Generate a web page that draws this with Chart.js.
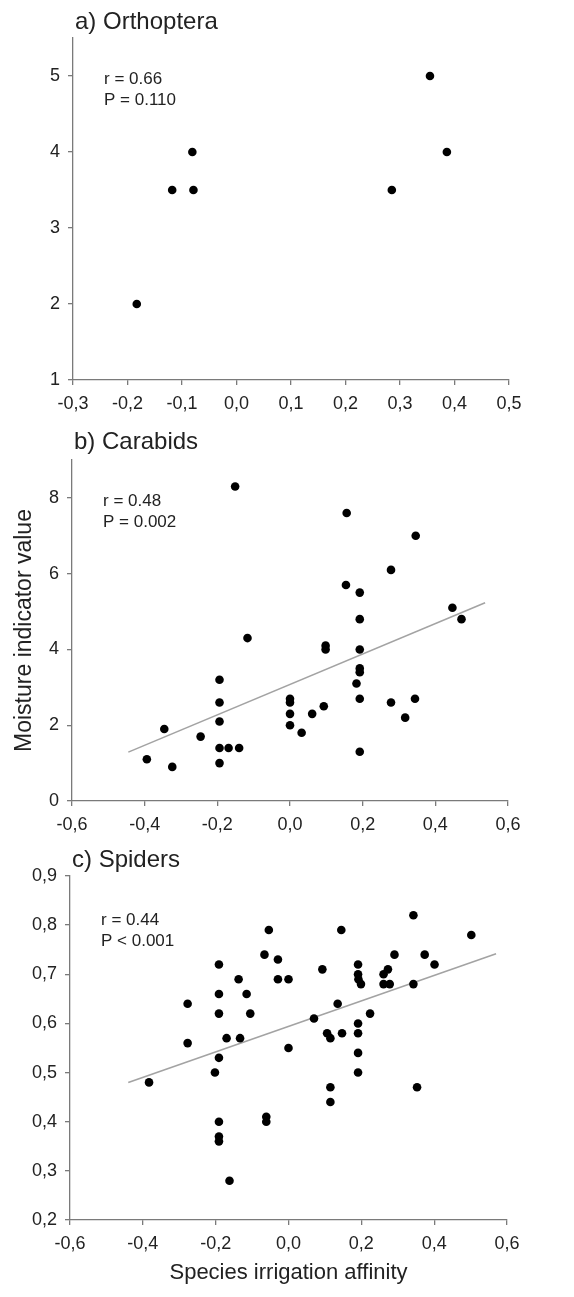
<!DOCTYPE html>
<html>
<head>
<meta charset="utf-8">
<script src="https://cdn.jsdelivr.net/npm/chart.js@4"></script>
<style>
  body { margin: 0; background: #fff; }
  #wrap { position: relative; width: 574px; height: 1297px; }
  canvas { position: absolute; left: 0; }
</style>
</head>
<body>
<div id="wrap">
  <canvas id="chartA" width="574" height="420" style="top:0"></canvas>
  <canvas id="chartB" width="574" height="430" style="top:420px"></canvas>
  <canvas id="chartC" width="574" height="447" style="top:850px"></canvas>
</div>
<script>
// a) Orthoptera
const orthopteraX = [-0.183, -0.118, -0.081, -0.079, 0.285, 0.355, 0.386];
const orthopteraY = [2, 3.5, 4, 3.5, 3.5, 5, 4];

// b) Carabids
const carabidX = [-0.151, 0.156, 0.346, 0.278, 0.154, 0.192, 0.447, 0.472, 0.192, -0.117,
  0.098, 0.098, 0.192, 0.192, 0.192, 0.183, -0.194, -0.194, 0, 0,
  0.192, 0.278, 0.344, 0.093, 0.061, 0, 0.317, -0.194, 0, -0.346,
  0.032, -0.246, -0.194, -0.169, -0.140, 0.192, -0.394, -0.194, -0.324];
const carabidY = [8.3, 7.6, 7.0, 6.1, 5.7, 5.5, 5.1, 4.8, 4.8, 4.3,
  4.1, 4.0, 4.0, 3.5, 3.4, 3.1, 3.2, 2.6, 2.7, 2.6,
  2.7, 2.6, 2.7, 2.5, 2.3, 2.3, 2.2, 2.1, 2.0, 1.9,
  1.8, 1.7, 1.4, 1.4, 1.4, 1.3, 1.1, 1.0, 0.9];
const carabidTrendX = [-0.445, 0.537];
const carabidTrendY = [1.29, 5.23];

// c) Spiders
const spiderX = [0.343, -0.054, 0.145, 0.502, -0.066, 0.291, 0.374, -0.029, -0.191, 0.191,
  0.401, -0.137, -0.029, 0, 0.093, 0.191, 0.192, 0.199, 0.261, 0.273,
  0.261, 0.278, 0.343, -0.277, -0.191, -0.115, 0.135, -0.191, -0.105, 0.224,
  0.070, 0.191, -0.277, -0.170, -0.133, 0.106, 0.115, 0.147, 0.191, 0,
  -0.191, 0.191, -0.202, 0.191, -0.383, 0.115, 0.353, 0.115, -0.061, -0.061,
  -0.191, -0.191, -0.191, -0.162];
const spiderY = [0.82, 0.79, 0.79, 0.78, 0.74, 0.74, 0.74, 0.73, 0.72, 0.72,
  0.72, 0.69, 0.69, 0.69, 0.71, 0.70, 0.69, 0.68, 0.70, 0.71,
  0.68, 0.68, 0.68, 0.64, 0.66, 0.66, 0.64, 0.62, 0.62, 0.62,
  0.61, 0.60, 0.56, 0.57, 0.57, 0.58, 0.57, 0.58, 0.58, 0.55,
  0.53, 0.54, 0.50, 0.50, 0.48, 0.47, 0.47, 0.44, 0.41, 0.40,
  0.40, 0.37, 0.36, 0.28];
const spiderTrendX = [-0.44, 0.57];
const spiderTrendY = [0.480, 0.742];

// tick values
const ticksXa = [-0.3, -0.2, -0.1, 0, 0.1, 0.2, 0.3, 0.4, 0.5];
const ticksYa = [1, 2, 3, 4, 5];
const ticksXbc = [-0.6, -0.4, -0.2, 0, 0.2, 0.4, 0.6];
const ticksYb = [0, 2, 4, 6, 8];
const ticksYc = [0.2, 0.3, 0.4, 0.5, 0.6, 0.7, 0.8, 0.9];

Chart.defaults.font.family = "'Liberation Sans', Arial, sans-serif";
Chart.defaults.color = '#222';

const AXIS_GREY = '#7a7a7a';

const toPoints = (xs, ys) => xs.map((x, i) => ({ x: x, y: ys[i] }));
const comma = (v, d) => v.toFixed(d).replace('.', ',');

// panel heading and r / P text
const panelText = {
  id: 'panelText',
  afterDraw(chart, args, opts) {
    const { ctx, chartArea } = chart;
    ctx.save();
    ctx.fillStyle = '#222';
    ctx.textBaseline = 'middle';
    ctx.textAlign = 'left';
    ctx.font = "24px 'Liberation Sans', Arial, sans-serif";
    ctx.fillText(opts.title, chartArea.left + 2, chartArea.top - opts.titleGap);
    ctx.font = "17px 'Liberation Sans', Arial, sans-serif";
    opts.lines.forEach((t, i) => {
      ctx.fillText(t, chartArea.left + 31, chartArea.top + opts.textTop + i * 21);
    });
    ctx.restore();
  }
};

function axis(min, max, values, decimals, size, extra) {
  return Object.assign({
    type: 'linear',
    min: min,
    max: max,
    afterBuildTicks: s => { s.ticks = values.map(v => ({ value: v })); },
    grid: { display: true, drawOnChartArea: false, drawTicks: true, tickLength: 5, color: AXIS_GREY, lineWidth: 1.3 },
    border: { display: true, color: AXIS_GREY, width: 1.3 },
    ticks: {
      autoSkip: false,
      maxRotation: 0,
      padding: 8,
      font: { size: 18 },
      color: '#222',
      callback: v => comma(v, decimals)
    }
  }, extra || {}, { afterFit: s => { if (s.isHorizontal()) s.height = size; else s.width = size; } });
}

function makePanel(id, cfg) {
  const datasets = [{
    data: toPoints(cfg.x, cfg.y),
    pointRadius: 4.3,
    pointBackgroundColor: '#000',
    pointBorderWidth: 0
  }];
  if (cfg.trendX) {
    datasets.push({
      data: toPoints(cfg.trendX, cfg.trendY),
      showLine: true,
      borderColor: '#a3a3a3',
      borderWidth: 1.6,
      pointRadius: 0
    });
  }
  return new Chart(document.getElementById(id), {
    type: 'scatter',
    data: { datasets: datasets },
    plugins: [panelText],
    options: {
      responsive: false,
      animation: false,
      layout: { padding: cfg.padding },
      plugins: {
        legend: { display: false },
        tooltip: { enabled: false },
        panelText: cfg.text
      },
      scales: {
        x: axis(cfg.xRange[0], cfg.xRange[1], cfg.xTicks, 1, cfg.xSize, cfg.xExtra),
        y: axis(cfg.yRange[0], cfg.yRange[1], cfg.yTicks, cfg.yDec, cfg.ySize, cfg.yExtra)
      }
    }
  });
}

makePanel('chartA', {
  x: orthopteraX, y: orthopteraY,
  xRange: [-0.3, 0.5], yRange: [1, 5.5],
  xTicks: ticksXa, yTicks: ticksYa, yDec: 0,
  xSize: 40, ySize: 73,
  padding: { top: 38, right: 65, left: 0, bottom: 0 },
  text: { title: 'a) Orthoptera', titleGap: 16, textTop: 41, lines: ['r = 0.66', 'P = 0.110'] }
});

makePanel('chartB', {
  x: carabidX, y: carabidY, trendX: carabidTrendX, trendY: carabidTrendY,
  xRange: [-0.6, 0.6], yRange: [0, 9],
  xTicks: ticksXbc, yTicks: ticksYb, yDec: 0,
  xSize: 49, ySize: 72,
  padding: { top: 40, right: 66, left: 0, bottom: 0 },
  yExtra: { title: { display: true, text: 'Moisture indicator value', font: { size: 23 }, color: '#222', padding: { top: 11, bottom: 0 } } },
  text: { title: 'b) Carabids', titleGap: 18, textTop: 41, lines: ['r = 0.48', 'P = 0.002'] }
});

makePanel('chartC', {
  x: spiderX, y: spiderY, trendX: spiderTrendX, trendY: spiderTrendY,
  xRange: [-0.6, 0.6], yRange: [0.2, 0.9],
  xTicks: ticksXbc, yTicks: ticksYc, yDec: 1,
  xSize: 77, ySize: 70,
  padding: { top: 26, right: 67, left: 0, bottom: 0 },
  xExtra: { title: { display: true, text: 'Species irrigation affinity', font: { size: 22 }, color: '#222', padding: { top: 0, bottom: 11 } } },
  text: { title: 'c) Spiders', titleGap: 16, textTop: 44, lines: ['r = 0.44', 'P < 0.001'] }
});
</script>
</body>
</html>
